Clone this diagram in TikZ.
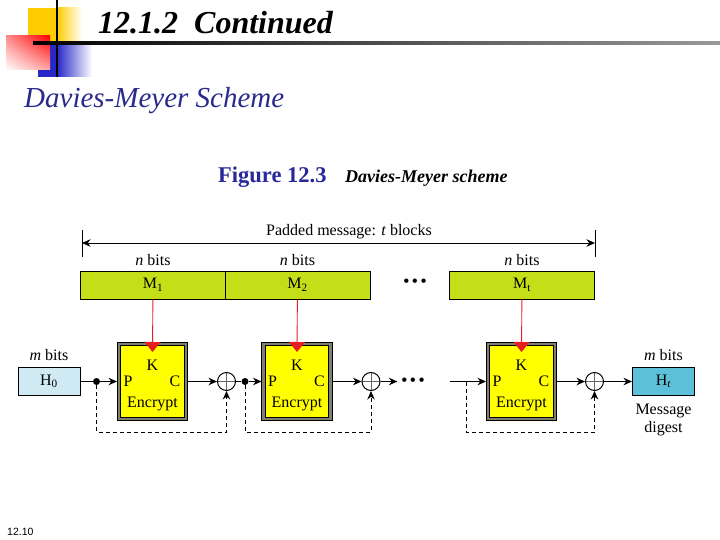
\documentclass[tikz,border=0pt]{standalone}
\usepackage{fontspec}
\setmainfont{Liberation Serif}
\setsansfont{Liberation Sans}
\usetikzlibrary{arrows.meta,positioning,calc,shadings}
\definecolor{msggreen}{RGB}{197,222,24}
\definecolor{encyellow}{RGB}{255,255,0}
\definecolor{encgray}{RGB}{128,128,112}
\definecolor{hzero}{RGB}{207,234,242}
\definecolor{hfinal}{RGB}{92,192,216}
\definecolor{keyred}{RGB}{230,30,30}
\definecolor{decoyellow}{RGB}{255,204,0}
\definecolor{decoblue}{RGB}{40,40,200}
\definecolor{subblue}{RGB}{42,42,140}
\definecolor{figblue}{RGB}{40,40,155}
\tikzset{
  dmtext/.style={font=\fontsize{16}{18}\selectfont, inner sep=0pt},
  dmline/.style={line width=1pt, black},
  msg/.style={rectangle, draw, line width=1pt, fill=msggreen,
              minimum width=145pt, minimum height=28pt, dmtext},
  enc/.style={rectangle, draw=black, line width=0.8pt, double=encgray,
              double distance=2.6pt, fill=encyellow, outer sep=2pt,
              minimum width=67pt, minimum height=75pt, inner sep=0pt},
  hbox/.style={rectangle, draw, line width=1pt,
               minimum width=62pt, minimum height=28pt, dmtext},
  xor/.style={circle, draw, line width=1pt, minimum size=18pt, inner sep=0pt,
              path picture={\draw[line width=0.7pt, black!60]
                (path picture bounding box.north) -- (path picture bounding box.south)
                (path picture bounding box.west) -- (path picture bounding box.east);}},
  tap/.style={circle, fill=black, minimum size=7pt, inner sep=0pt},
}
\begin{document}
\begin{tikzpicture}[x=1pt, y=-1pt, >=Stealth,
    flow/.style={dmline, -{Stealth[length=8.5pt,width=7.5pt]}},
    fb/.style={dmline, dash pattern=on 4pt off 3pt, -{Stealth[length=8.5pt,width=7.5pt]}},
    key/.style={line width=0.9pt, keyred, -{Triangle[length=10pt,width=16pt]}}]
\useasboundingbox (0,0) rectangle (720,540);
% slide decoration
\fill[decoyellow] (28,8) rectangle (57,44);
\shade[left color=decoyellow, right color=white] (57,8) rectangle (82,44);
\fill[decoblue] (38,44) rectangle (57,77);
\shade[left color=decoblue, right color=white] (57,44) rectangle (92,77);
\shade[upper right=red, upper left=red!45!white, lower right=red!35!white,
       lower left=white] (6,36) rectangle (50,70);
\draw[line width=2pt] (57,0) -- (57,77);
\shade[left color=black, right color=black!40] (33,42) rectangle (720,44.5);
% titles
\node[anchor=base west, inner sep=0pt, font=\fontsize{32}{34}\selectfont\bfseries\itshape]
  (ttl) at (98,34) {12.1.2\ \ Continued};
\node[anchor=base west, inner sep=0pt, text=subblue, font=\fontsize{29}{32}\selectfont\itshape]
  (sub) at (24,108) {Davies-Meyer Scheme};
\node[anchor=base west, inner sep=0pt, text=figblue, font=\fontsize{22.5}{25}\selectfont\bfseries]
  (fig) at (218,183) {Figure 12.3};
\node[anchor=base west, inner sep=0pt, font=\fontsize{18}{21}\selectfont\bfseries\itshape]
  (cap) at (345,183) {Davies-Meyer scheme};
% padded message
\coordinate (pl) at (82,243);
\coordinate (pr) at (595,243);
\draw[dmline] ([yshift=13pt]pl) -- ([yshift=-14pt]pl);
\draw[dmline] ([yshift=13pt]pr) -- ([yshift=-14pt]pr);
\draw[flow, {Stealth[length=8.5pt,width=7.5pt]}-{Stealth[length=8.5pt,width=7.5pt]}] (pl) -- (pr);
\node[dmtext] (pad) at (349,232) {Padded message: \textit{t} blocks};
\node[msg] (m1) at (153,285) {M\textsubscript{1}};
\node[msg] (m2) at (297.5,285) {M\textsubscript{2}};
\node[msg] (mt) at (522,285) {M\textsubscript{t}};
\node[dmtext, font=\fontsize{16}{18}\selectfont\bfseries] (dtop) at (415,283)
  {\textbullet\hspace{3pt}\textbullet\hspace{3pt}\textbullet};
\foreach \m in {m1,m2,mt}
  \node[dmtext, above=5pt of \m] {\textit{n} bits};
% encryption stages
\foreach \i/\x in {1/152.5,2/297,3/521.5}{
  \node[enc] (e\i) at (\x,381.5) {};
  \node[dmtext] at ([yshift=-23pt]e\i.north) {K};
  \node[dmtext] at ([xshift=11pt]e\i.west) {P};
  \node[dmtext] at ([xshift=-13pt]e\i.east) {C};
  \node[dmtext] at ([yshift=17pt]e\i.south) {Encrypt};
}
\draw[key] (m1) -- ([yshift=-10pt]e1.north);
\draw[key] (m2) -- ([yshift=-10pt]e2.north);
\draw[key] (mt) -- ([yshift=-10pt]e3.north);
% chaining values
\node[hbox, fill=hzero] (h0) at (49,381.5) {H\textsubscript{0}};
\node[dmtext, above=6pt of h0] {\textit{m} bits};
\node[hbox, fill=hfinal] (ht) at (663.5,381.5) {H\textsubscript{\textit{t}}};
\node[dmtext, above=6pt of ht] {\textit{m} bits};
\node[dmtext, align=center, below=8pt of ht] (dig) {Message\\[0pt]digest};
\node[xor] (x1) at (226.5,381.5) {};
\node[xor] (x2) at (371,381.5) {};
\node[xor] (x3) at (594.5,381.5) {};
\node[tap] (d1) at (96.5,381.5) {};
\node[tap] (d2) at (245,381.5) {};
\node[dmtext, font=\fontsize{16}{18}\selectfont\bfseries] (dmid) at (413,381.5)
  {\textbullet\hspace{3pt}\textbullet\hspace{3pt}\textbullet};
\coordinate (s3) at (450,381.5);
\coordinate (t3) at (466,381.5);
\coordinate (low) at (0,432);
\draw[dmline] (h0) -- (d1);
\draw[flow] (d1) -- (e1);
\draw[flow] (e1) -- (x1);
\draw[dmline] (x1) -- (d2);
\draw[flow] (d2) -- (e2);
\draw[flow] (e2) -- (x2);
\draw[flow] (x2) -- ([xshift=-4pt]dmid.west);
\draw[flow] (s3) -- (e3);
\draw[flow] (e3) -- (x3);
\draw[flow] (x3) -- (ht);
% feedforward
\draw[fb] (d1) -- (d1 |- low) -| (x1);
\draw[fb] (d2) -- (d2 |- low) -| (x2);
\draw[fb] (t3) -- (t3 |- low) -| (x3);
\node[anchor=base west, inner sep=0pt, font=\sffamily\fontsize{10.5}{12}\selectfont]
  (pg) at (7,535) {12.10};
\end{tikzpicture}
\end{document}
